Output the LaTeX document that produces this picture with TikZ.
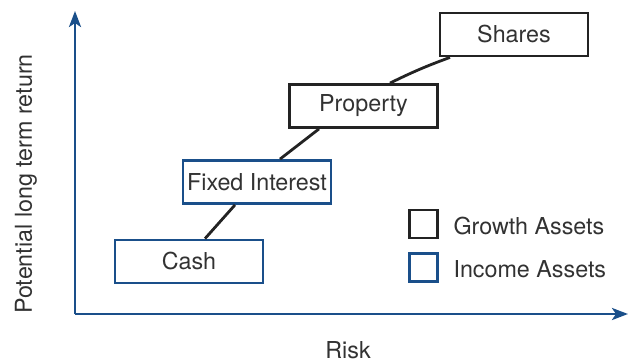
\documentclass[tikz,border=0pt]{standalone}
\usepackage{fontspec}
\setmainfont{TeX Gyre Heros}
\usetikzlibrary{arrows.meta,calc}
\definecolor{axisblue}{RGB}{26,79,138}
\definecolor{txt}{RGB}{50,50,50}
\definecolor{boxblack}{RGB}{35,35,35}
\begin{document}
\begin{tikzpicture}[x=1pt,y=-1pt,
  lbl/.style={font=\fontsize{23.3}{26}\selectfont, text=txt},
  assetbox/.style={draw, line width=2.8pt, minimum width=148pt, minimum height=43pt, inner sep=0pt, lbl},
  growth/.style={assetbox, draw=boxblack},
  income/.style={assetbox, draw=axisblue},
  legsq/.style={draw, line width=2.8pt, minimum size=28pt, inner sep=0pt},
  link/.style={draw=boxblack, line width=2.8pt},
  axisline/.style={draw=axisblue, line width=2.8pt, -{Stealth[length=16pt,width=12pt,inset=4pt]}}
]
\useasboundingbox (0,0) rectangle (632,362);
\coordinate (O) at (75,314);
\coordinate (ytip) at (75,11);
\coordinate (xtip) at (628,314);
\draw[axisline] (O) -- (ytip);
\draw[axisline] (O) -- (xtip);
\node[income] (cash) at (189,261.5) {Cash};
\node[income] (fixed) at (257,182) {Fixed Interest};
\node[growth] (prop) at (363.5,106) {Property};
\node[growth] (shares) at (514,34.5) {Shares};
\draw[link] ([xshift=16pt]cash.north) -- ([xshift=-22pt]fixed.south);
\draw[link] ([xshift=23pt]fixed.north) -- ([xshift=-44.5pt]prop.south);
\draw[link] ([xshift=26.5pt]prop.north) to[bend left=3] ([xshift=-64pt]shares.south);
\node[legsq, draw=boxblack] (lg) at (423.5,224) {};
\node[legsq, draw=axisblue] (li) at (423.5,267.5) {};
\node[lbl, anchor=west] (lgt) at (450,226) {Growth Assets};
\node[lbl, anchor=west] (lit) at (450,269) {Income Assets};
\node[lbl, inner sep=1pt] (risk) at (348,350) {Risk};
\node[lbl, rotate=90] (ret) at (26,184) {Potential long term return};
\end{tikzpicture}
\end{document}
